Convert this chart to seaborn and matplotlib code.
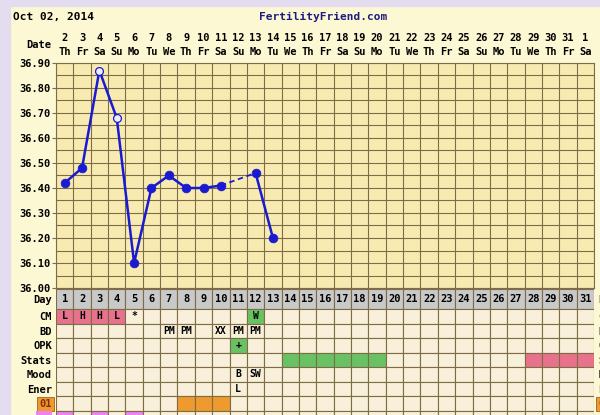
import numpy as np
import pandas as pd
import matplotlib.pyplot as plt
import seaborn as sns
from matplotlib.patches import Rectangle

# cycle days 1..31, calendar dates and weekdays above the chart
days = list(range(1, 32))
dates = ['2', '3', '4', '5', '6', '7', '8', '9', '10', '11', '12', '13', '14', '15', '16',
         '17', '18', '19', '20', '21', '22', '23', '24', '25', '26', '27', '28', '29', '30', '31', '1']
weekdays = ['Th', 'Fr', 'Sa', 'Su', 'Mo', 'Tu', 'We', 'Th', 'Fr', 'Sa', 'Su', 'Mo', 'Tu', 'We', 'Th', 'Fr',
            'Sa', 'Su', 'Mo', 'Tu', 'We', 'Th', 'Fr', 'Sa', 'Su', 'Mo', 'Tu', 'We', 'Th', 'Fr', 'Sa']
temp_days = [1, 2, 3, 4, 5, 6, 7, 8, 9, 10, 12, 13]
temps = [36.42, 36.48, 36.87, 36.68, 36.10, 36.40, 36.45, 36.40, 36.40, 36.41, 36.46, 36.20]
discarded = [3, 4]
temp_ticks = [36.00, 36.10, 36.20, 36.30, 36.40, 36.50, 36.60, 36.70, 36.80, 36.90]

# table rows below the chart
row_names = ['Day', 'CM', 'BD', 'OPK', 'Stats', 'Mood', 'Ener', '01', '']
cm_text = {1: 'L', 2: 'H', 3: 'H', 4: 'L', 5: '*', 12: 'W'}
cm_pink = [1, 2, 3, 4]
cm_green = [12]
bd_text = {7: 'PM', 8: 'PM', 10: 'XX', 11: 'PM', 12: 'PM'}
opk_text = {11: '+'}
opk_green = [11]
stats_green = [14, 15, 16, 17, 18, 19]
stats_pink = [28, 29, 30, 31]
mood_text = {11: 'B', 12: 'SW'}
ener_text = {11: 'L'}
row01_orange = [8, 9, 10]
row9_magenta = [1, 3, 5]

blue = '#1a1ad0'
gridc = '#7d6c45'
cream = '#f8f0da'
grey = '#c9c9c9'
pink = '#e8728c'
green = '#68c264'
orange = '#ee9a2e'
magenta = '#ee82ee'

plt.rcParams['font.family'] = ['DejaVu Sans Mono']
plt.rcParams['font.weight'] = 'bold'

fig = plt.figure(figsize=(6, 4.15), dpi=100)
fig.patch.set_facecolor('#fdf8d4')
fig.add_artist(Rectangle((0, 0), 10/600, 1, transform=fig.transFigure, color='#e3ddef', zorder=0))
fig.add_artist(Rectangle((0, 1 - 6/415), 1, 6/415, transform=fig.transFigure, color='#e3ddef', zorder=0))

fig.text(13/600, 1 - 17/415, 'Oct 02, 2014', fontsize=8, fontweight='bold', va='center', ha='left')
fig.text(323/600, 1 - 17/415, 'FertilityFriend.com', fontsize=8, fontweight='bold',
         va='center', ha='center', color='#1c1c80')

# ---- temperature chart ----
L, W = 56/600, 538/600
ax = fig.add_axes([L, 1 - 288/415, W, 225/415])
ax.set_facecolor('#f8ebb2')

df = pd.DataFrame({'day': temp_days, 'temp': temps})
sns.lineplot(data=df[df.day <= 10], x='day', y='temp', ax=ax, color=blue, lw=1.8,
             estimator=None, sort=False)
sns.lineplot(data=df[df.day.isin([10, 12])], x='day', y='temp', ax=ax, color=blue, lw=1.3,
             linestyle=(0, (3, 2)), estimator=None, sort=False)
sns.lineplot(data=df[df.day >= 12], x='day', y='temp', ax=ax, color=blue, lw=1.8,
             estimator=None, sort=False)
sns.scatterplot(data=df[~df.day.isin(discarded)], x='day', y='temp', ax=ax, color=blue,
                edgecolor=blue, s=40, zorder=5)
sns.scatterplot(data=df[df.day.isin(discarded)], x='day', y='temp', ax=ax, color='#eeeefa',
                edgecolor=blue, linewidth=0.9, s=32, zorder=5)

ax.set_xlim(0.5, 31.5)
ax.set_ylim(36.0, 36.9)
ax.set_xticks(np.arange(0.5, 32, 1))
ax.set_xticklabels([])
ax.set_yticks(temp_ticks)
ax.set_yticklabels([f'{v:.2f}' for v in temp_ticks])
ax.set_yticks(np.arange(36.05, 36.9, 0.1), minor=True)
ax.grid(True, which='both', color=gridc, lw=0.8)
ax.set_axisbelow(True)
ax.tick_params(axis='x', length=0)
ax.tick_params(axis='y', which='major', length=3, color=gridc, labelsize=7.5, pad=1,
               labelright=True, right=False)
ax.tick_params(axis='y', which='minor', length=0)
ax.set_xlabel('')
ax.set_ylabel('')
for s in ax.spines.values():
    s.set_color(gridc)
    s.set_linewidth(0.8)

tr = ax.get_xaxis_transform()
for d, dt, wd in zip(days, dates, weekdays):
    ax.text(d, 1.111, dt, transform=tr, ha='center', va='center', fontsize=7.5)
    ax.text(d, 1.049, wd, transform=tr, ha='center', va='center', fontsize=7.5)
ax.text(-0.008, 1.08, 'Date', transform=ax.transAxes, ha='right', va='center', fontsize=7.5)

# ---- table below ----
tb = fig.add_axes([L, 1 - 424/415, W, 135/415])
row_h = [20] + [14.5] * 8
tops = np.concatenate([[0], np.cumsum(row_h)[:-1]])


def row_colors(r):
    base = grey if r == 0 else cream
    cols = [base] * len(days)
    fills = {1: [(cm_pink, pink), (cm_green, green)], 3: [(opk_green, green)],
             4: [(stats_green, green), (stats_pink, pink)], 7: [(row01_orange, orange)],
             8: [(row9_magenta, magenta)]}
    for dl, c in fills.get(r, []):
        for d in dl:
            cols[d - 1] = c
    return cols


for r in range(len(row_names)):
    tb.bar(days, row_h[r], bottom=tops[r], width=1, color=row_colors(r),
           edgecolor=gridc, linewidth=0.8)

centers = tops + np.array(row_h) / 2
for d in days:
    tb.text(d, centers[0], str(d), ha='center', va='center', fontsize=7.5)
for r, txt in [(1, cm_text), (2, bd_text), (3, opk_text), (5, mood_text), (6, ener_text)]:
    for d, t in txt.items():
        tb.text(d, centers[r], t, ha='center', va='center', fontsize=7)

tb.set_xlim(0.5, 31.5)
tb.set_ylim(135, 0)
tb.set_xticks([])
tb.set_yticks(centers)
tb.set_yticklabels(row_names)
tb.tick_params(axis='y', length=0, labelsize=7.5, pad=3, labelright=True)
for lab in tb.get_yticklabels():
    if lab.get_text() == '01':
        lab.set_bbox(dict(facecolor=orange, edgecolor='#a06020', pad=1.5, lw=0.6))
        lab.set_color('#8a2a10')
# magenta label box of the last (cut-off) row
fig.add_artist(Rectangle((36/600, 0), 16/600, 4/415, transform=fig.transFigure,
                         facecolor=magenta, edgecolor='none'))
for s in tb.spines.values():
    s.set_visible(False)

fig.savefig('out.png', dpi=100, facecolor=fig.get_facecolor())
